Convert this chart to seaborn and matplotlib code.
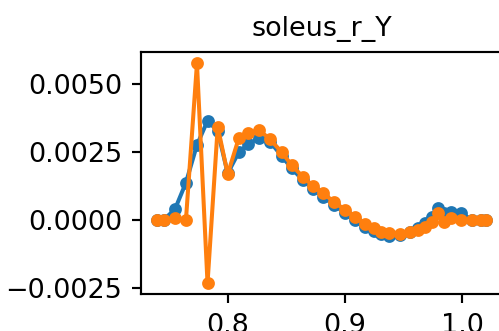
import pandas as pd
import matplotlib.pyplot as plt
import seaborn as sns

time = [0.7395, 0.7454, 0.7551, 0.7644, 0.7738, 0.7828, 0.7915, 0.8000, 0.8096,
        0.8176, 0.8267, 0.8361, 0.8459, 0.8544, 0.8638, 0.8727, 0.8812, 0.8906,
        0.9000, 0.9088, 0.9173, 0.9245, 0.9307, 0.9379, 0.9465, 0.9551, 0.9625,
        0.9682, 0.9739, 0.9795, 0.9847, 0.9904, 0.9991, 1.0080, 1.0159, 1.0202]
blue_vals = [0.0, 0.0, 0.00040, 0.00137, 0.00275, 0.00364, 0.00326, 0.00171, 0.00250,
             0.00279, 0.00300, 0.00287, 0.00235, 0.00190, 0.00147, 0.00114, 0.00086, 0.00055,
             0.00026, 0.0, -0.00026, -0.00040, -0.00051, -0.00057, -0.00055, -0.00044, -0.00029,
             -0.00011, 0.00011, 0.00043, 0.00026, 0.00030, 0.00026, 0.0, 0.0, 0.0]
orange_vals = [0.0, 0.0, 0.00006, 0.0, 0.00574, -0.00232, 0.00342, 0.00168, 0.00302,
               0.00318, 0.00330, 0.00296, 0.00249, 0.00202, 0.00159, 0.00125, 0.00098, 0.00067,
               0.00037, 0.00010, -0.00015, -0.00030, -0.00043, -0.00049, -0.00051, -0.00043, -0.00037,
               -0.00025, -0.00006, 0.00025, -0.00006, 0.00006, 0.0, 0.0, 0.0, 0.0]
x_ticks = [0.8, 0.9, 1.0]
y_ticks = [-0.0025, 0.0, 0.0025, 0.0050]

df = pd.DataFrame({'time': time, 'blue': blue_vals, 'orange': orange_vals})

dpi = 194
fig = plt.figure(figsize=(499 / dpi, 331 / dpi), dpi=dpi)
ax = fig.add_axes([141 / 499, 37 / 331, 361 / 499, 242 / 331])

# same look as plt.plot(..., '.-'): no white marker edges
sns.lineplot(data=df, x='time', y='blue', ax=ax, color='#1f77b4', marker='.', markersize=7.5,
             markeredgecolor='#1f77b4', markeredgewidth=1.0, linewidth=1.5)
sns.lineplot(data=df, x='time', y='orange', ax=ax, color='#ff7f0e', marker='.', markersize=7.5,
             markeredgecolor='#ff7f0e', markeredgewidth=1.0, linewidth=1.5)

ax.set_xlim(0.7261, 1.0338)
ax.set_ylim(-0.002713, 0.006159)
ax.set_xticks(x_ticks)
ax.set_yticks(y_ticks)
ax.tick_params(labelsize=10)
ax.set_xlabel('')
ax.set_ylabel('')
ax.set_title('soleus_r_Y', fontsize=10)

fig.savefig('out.png', dpi=dpi)
